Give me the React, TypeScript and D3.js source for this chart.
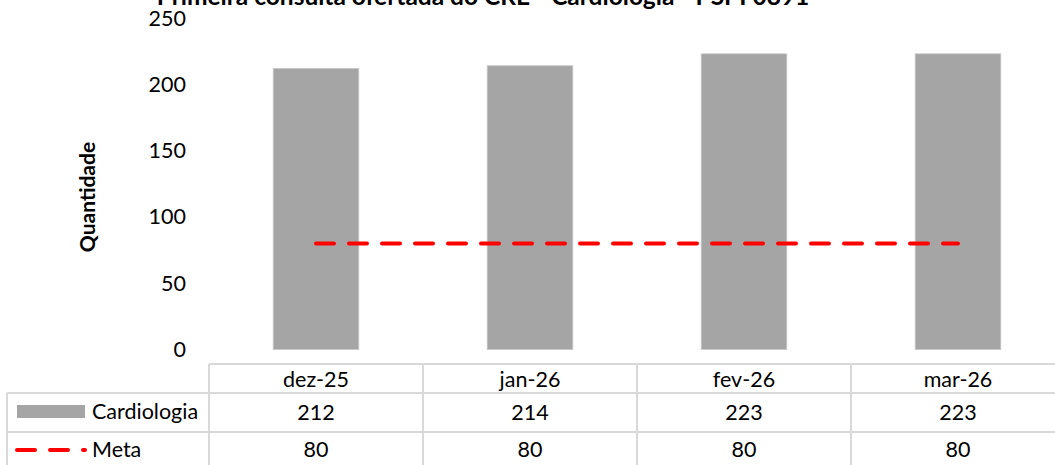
import React from "react";
import * as d3 from "d3";

const categories = ["dez-25", "jan-26", "fev-26", "mar-26"];
const cardiologia = [212, 214, 223, 223];
const meta = [80, 80, 80, 80];
const yTicks = [0, 50, 100, 150, 200, 250];
const title = "Primeira consulta ofertada do CRE - Cardiologia - PSPI 0891";
const seriesNames = ["Cardiologia", "Meta"];

const W = 1055;
const H = 465;
const FONT = "Lato, 'Open Sans', 'Noto Sans', sans-serif";
const GRID = "#d9d9d9";
const BAR = "#a5a5a5";
const RED = "#ff0000";
const FS = 21.5;

export default function App() {
  const x = d3.scaleBand<string>().domain(categories).range([209, 1065]).paddingInner(0).paddingOuter(0);
  const y = d3.scaleLinear().domain([0, 250]).range([349.5, 18]);
  const bw = x.bandwidth() * 0.4;
  const cx = (c: string) => (x(c) as number) + x.bandwidth() / 2;

  const line = d3
    .line<number>()
    .x((_, i) => cx(categories[i]))
    .y((d) => y(d));

  const tableTop = 364;
  const rowY = [364, 393, 432, 471];
  const dash = "18 15";

  return (
    <svg
      width={W}
      height={H}
      style={{ position: "absolute", left: 0, top: 0, background: "#fff", fontFamily: FONT }}
    >
      <text x={483} y={5} textAnchor="middle" fontSize={24.5} fontWeight="bold" fill="#000">
        {title}
      </text>

      {yTicks.map((t) => (
        <text key={t} x={186} y={y(t)} dy="0.35em" textAnchor="end" fontSize={FS} fill="#000">
          {t}
        </text>
      ))}

      <text
        transform={`translate(95,197) rotate(-90)`}
        textAnchor="middle"
        fontSize={21}
        fontWeight="bold"
        fill="#000"
      >
        Quantidade
      </text>

      {categories.map((c, i) => (
        <rect
          key={c}
          x={cx(c) - bw / 2}
          y={y(cardiologia[i])}
          width={bw}
          height={y(0) - y(cardiologia[i])}
          fill={BAR}
          stroke="#c8c8c8"
          strokeWidth={0.8}
        />
      ))}

      <path
        d={line(meta) || ""}
        fill="none"
        stroke={RED}
        strokeWidth={4}
        strokeDasharray={dash}
        strokeLinecap="round"
      />

      {/* data table */}
      <g stroke={GRID} strokeWidth={2} fill="none">
        <line x1={209} x2={W} y1={tableTop} y2={tableTop} />
        <line x1={7} x2={W} y1={rowY[1]} y2={rowY[1]} />
        <line x1={7} x2={W} y1={rowY[2]} y2={rowY[2]} />
        <line x1={7} x2={7} y1={rowY[1]} y2={H} />
        <line x1={209} x2={209} y1={tableTop} y2={H} />
        {categories.map((c) => (
          <line key={c} x1={(x(c) as number) + x.bandwidth()} x2={(x(c) as number) + x.bandwidth()} y1={tableTop} y2={H} />
        ))}
      </g>

      {categories.map((c) => (
        <text key={c} x={cx(c)} y={(rowY[0] + rowY[1]) / 2 + 1} dy="0.35em" textAnchor="middle" fontSize={FS} fill="#000">
          {c}
        </text>
      ))}
      {categories.map((c, i) => (
        <text key={c} x={cx(c)} y={(rowY[1] + rowY[2]) / 2} dy="0.35em" textAnchor="middle" fontSize={FS} fill="#000">
          {cardiologia[i]}
        </text>
      ))}
      {categories.map((c, i) => (
        <text key={c} x={cx(c)} y={(rowY[2] + rowY[3]) / 2 - 2} dy="0.35em" textAnchor="middle" fontSize={FS} fill="#000">
          {meta[i]}
        </text>
      ))}

      {/* legend keys */}
      <rect x={17} y={405} width={68} height={13} fill={BAR} />
      <text x={92} y={411.5} dy="0.35em" fontSize={FS} fill="#000">
        {seriesNames[0]}
      </text>
      <line x1={17} x2={85} y1={450} y2={450} stroke={RED} strokeWidth={4} strokeDasharray={dash} strokeLinecap="round" />
      <text x={92} y={449} dy="0.35em" fontSize={FS} fill="#000">
        {seriesNames[1]}
      </text>
    </svg>
  );
}
